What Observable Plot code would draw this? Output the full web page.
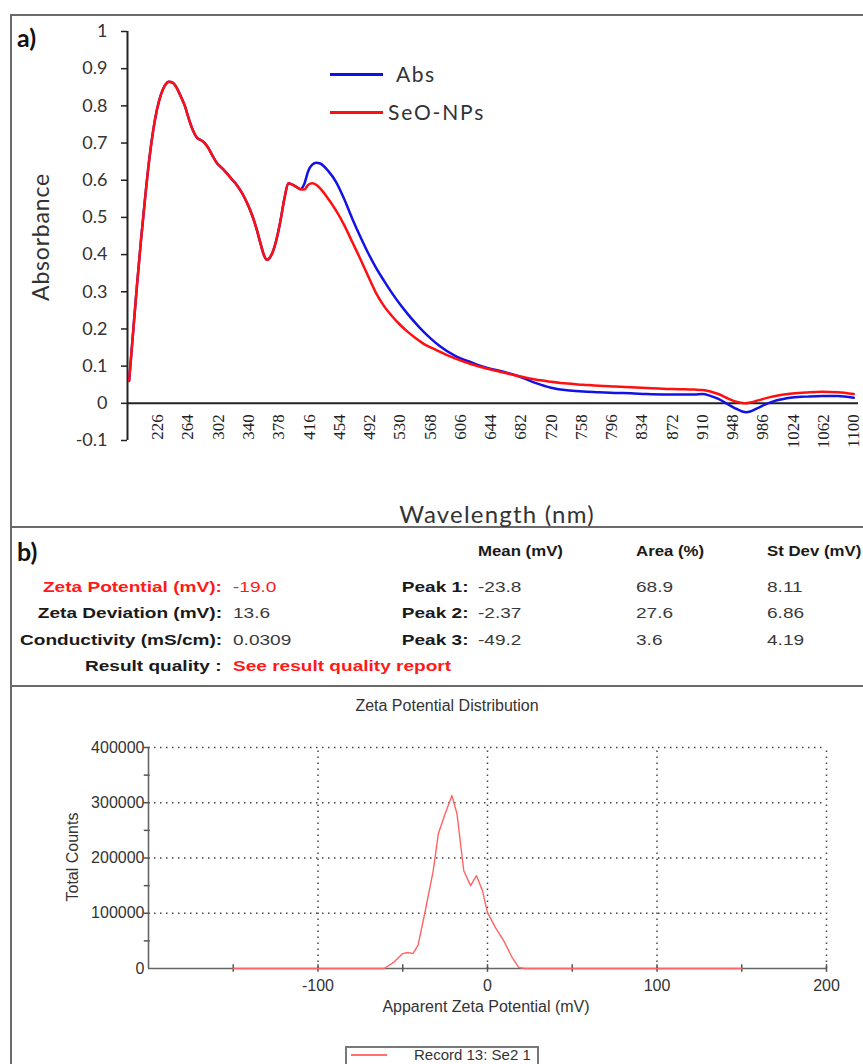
<!DOCTYPE html>
<html><head><meta charset="utf-8">
<script src="https://cdn.jsdelivr.net/npm/d3@7"></script>
<script src="https://cdn.jsdelivr.net/npm/@observablehq/plot@0.6"></script>
<style>
html,body{margin:0;padding:0;background:#fff;}
body{width:863px;height:1064px;overflow:hidden;position:relative;}
.abs{position:absolute;white-space:nowrap;}
.line{position:absolute;background:#6a6a6a;}
.cal{font-family:Lato,"Open Sans",sans-serif;color:#333;}
.ar{font-family:"Liberation Sans",Arial,sans-serif;}
.tb{font-family:"Liberation Sans",Arial,sans-serif;font-size:15px;line-height:18px;color:#3a3a3a;transform:scaleX(1.27);transform-origin:left center;}
.tb.r{transform-origin:right center;text-align:right;}
.tb.b{font-weight:bold;color:#1a1a1a;}
.red{color:#ff1a1a !important;}
</style></head><body>
<div id="plotA" class="abs" style="left:0;top:0"></div>
<div id="plotB" class="abs" style="left:0;top:686px"></div>

<div class="line" style="left:10px;top:14px;width:2px;height:1050px"></div>
<div class="line" style="left:10px;top:14px;width:853px;height:2px"></div>
<div class="line" style="left:10px;top:526px;width:853px;height:2px"></div>
<div class="line" style="left:10px;top:685px;width:853px;height:2px"></div>

<div class="abs cal" style="left:17px;top:22px;font-size:25px;font-weight:bold;color:#111">a)</div>
<div class="abs cal" style="left:40px;top:237px;font-size:23px;letter-spacing:0.8px;transform:translate(-50%,-50%) rotate(-90deg)">Absorbance</div>
<div class="abs cal" style="left:497px;top:513px;font-size:24px;letter-spacing:1.2px;transform:translate(-50%,-50%)">Wavelength (nm)</div>
<div class="abs" style="left:330px;top:73px;width:53px;height:2.5px;background:#1010e8"></div>
<div class="abs cal" style="left:396px;top:61px;font-size:21px;letter-spacing:1.5px">Abs</div>
<div class="abs" style="left:330px;top:111px;width:53px;height:2.5px;background:#ff1010"></div>
<div class="abs cal" style="left:388px;top:99px;font-size:21px;letter-spacing:1.8px">SeO-NPs</div>

<div class="abs cal" style="left:17px;top:536px;font-size:25px;font-weight:bold;color:#111">b)</div>
<div id="table"></div>

<div class="abs ar" style="left:447px;top:706px;font-size:16px;color:#333;transform:translate(-50%,-50%)">Zeta Potential Distribution</div>
<div class="abs ar" style="left:73px;top:857px;font-size:16px;color:#333;transform:translate(-50%,-50%) rotate(-90deg)">Total Counts</div>
<div class="abs ar" style="left:486px;top:1007px;font-size:16px;color:#333;transform:translate(-50%,-50%)">Apparent Zeta Potential (mV)</div>
<div class="abs" style="left:345px;top:1046px;width:190px;height:40px;border:2px solid #777;background:#fff"></div>
<div class="abs" style="left:351px;top:1054px;width:36px;height:2px;background:#ff7070"></div>
<div class="abs ar" style="left:414px;top:1046px;font-size:15px;color:#333">Record 13: Se2 1</div>

<script>
// ---- Panel a: UV-Vis spectra ----
const wavelength = [190,195,200,205,210,215,220,225,230,235,240,245,250,255,260,265,270,275,280,285,290,295,300,305,310,315,320,325,330,335,340,345,350,355,360,363,366,370,375,380,385,390,395,400,405,410,415,420,425,430,440,450,460,470,480,490,500,510,520,530,540,550,560,570,580,600,620,640,660,680,700,720,740,760,780,800,820,840,860,880,900,910,920,930,940,950,960,965,970,980,990,1000,1010,1020,1040,1060,1080,1100];
const absValues = [0.06,0.19,0.32,0.44,0.55,0.65,0.73,0.79,0.83,0.855,0.865,0.862,0.848,0.825,0.80,0.765,0.735,0.715,0.708,0.70,0.685,0.665,0.647,0.636,0.625,0.613,0.60,0.588,0.572,0.553,0.53,0.503,0.47,0.43,0.395,0.386,0.39,0.405,0.44,0.49,0.55,0.592,0.588,0.582,0.576,0.59,0.625,0.642,0.647,0.645,0.625,0.595,0.55,0.498,0.45,0.405,0.365,0.33,0.297,0.267,0.24,0.215,0.192,0.172,0.154,0.127,0.11,0.095,0.085,0.072,0.055,0.042,0.035,0.032,0.030,0.028,0.027,0.025,0.024,0.024,0.024,0.025,0.020,0.012,0.000,-0.012,-0.022,-0.024,-0.022,-0.012,-0.002,0.006,0.011,0.015,0.018,0.020,0.020,0.015];
const seoValues = [0.06,0.19,0.32,0.44,0.55,0.65,0.73,0.79,0.83,0.855,0.865,0.862,0.848,0.825,0.80,0.765,0.735,0.715,0.708,0.70,0.685,0.665,0.647,0.636,0.625,0.613,0.60,0.588,0.572,0.553,0.53,0.503,0.47,0.43,0.395,0.386,0.39,0.405,0.44,0.49,0.55,0.592,0.588,0.582,0.576,0.575,0.588,0.592,0.588,0.578,0.55,0.518,0.48,0.435,0.39,0.343,0.297,0.262,0.235,0.212,0.192,0.175,0.16,0.149,0.139,0.12,0.105,0.093,0.083,0.073,0.064,0.058,0.053,0.050,0.047,0.045,0.043,0.041,0.039,0.038,0.037,0.036,0.032,0.025,0.015,0.006,0.001,0.000,0.002,0.008,0.014,0.019,0.023,0.026,0.029,0.031,0.030,0.025];
const xTickValues = [226,264,302,340,378,416,454,492,530,568,606,644,682,720,758,796,834,872,910,948,986,1024,1062,1100];
const yTickValues = [1,0.9,0.8,0.7,0.6,0.5,0.4,0.3,0.2,0.1,0,-0.1];
const yTickLabels = ["1","0.9","0.8","0.7","0.6","0.5","0.4","0.3","0.2","0.1","0","-0.1"];

// ---- Panel b: zeta potential ----
const zetaMv = [-150,-61,-55,-50,-47,-44,-41,-37,-32,-29,-25,-21,-18,-14,-10,-6.5,-3,0,4.7,9.6,14.5,18.4,22,150];
const zetaCounts = [0,0,12000,27000,29000,27000,42000,100000,177000,244000,280000,313000,280000,177000,150000,168000,141000,101000,74000,50000,20000,2000,0,0];
const zetaXTicks = [-150,-100,-50,0,50,100,150,200];
const zetaXLabelValues = [-100,0,100,200];
const zetaXLabels = ["-100","0","100","200"];
const zetaYTicks = [50000,100000,150000,200000,250000,300000,350000,400000];
const zetaYLabelValues = [0,100000,200000,300000,400000];
const zetaYLabels = ["0","100000","200000","300000","400000"];
const zetaGridX = [-100,0,100,200];
const zetaGridY = [100000,200000,300000,400000];

const tableHeaders = ["Mean (mV)","Area (%)","St Dev (mV)"];
const summaryLabels = ["Zeta Potential (mV):","Zeta Deviation (mV):","Conductivity (mS/cm):","Result quality :"];
const summaryValues = ["-19.0","13.6","0.0309","See result quality report"];
const peakLabels = ["Peak 1:","Peak 2:","Peak 3:"];
const peakMean = ["-23.8","-2.37","-49.2"];
const peakArea = ["68.9","27.6","3.6"];
const peakStDev = ["8.11","6.86","4.19"];

const absData = wavelength.map((w,i)=>({w, v: absValues[i]}));
const seoData = wavelength.map((w,i)=>({w, v: seoValues[i]}));

const plotA = Plot.plot({
  width: 863, height: 527,
  marginLeft: 127, marginRight: 5, marginTop: 31, marginBottom: 87,
  x: {domain: [188, 1106], axis: null},
  y: {domain: [-0.1, 1], axis: null},
  style: {background: "transparent", fontFamily: "Lato, 'Open Sans', sans-serif", fontSize: "18px", color: "#333", overflow: "visible"},
  marks: [
    Plot.ruleY([0], {x1: 188, x2: 1106, stroke: "#222", strokeWidth: 2}),
    Plot.ruleX([188], {y1: -0.1, y2: 1, stroke: "#222", strokeWidth: 2}),
    Plot.ruleY(yTickValues, {x1: 188, x2: 188, insetLeft: -6, stroke: "#222", strokeWidth: 1.5}),
    Plot.text(yTickValues, {x: 188, y: d => d, text: (d,i) => yTickLabels[i], textAnchor: "end", dx: -20, fill: "#333", fontSize: 18}),
    Plot.line(absData, {x: "w", y: "v", stroke: "#1212e6", strokeWidth: 2.5, curve: "monotone-x"}),
    Plot.line(seoData, {x: "w", y: "v", stroke: "#ff1010", strokeWidth: 2.5, curve: "monotone-x"}),
    Plot.text(xTickValues, {x: d => d, y: 0, text: d => String(d), rotate: -90, textAnchor: "end", lineAnchor: "middle", dy: 11, fontFamily: "'Liberation Serif', 'DejaVu Serif', serif", fontSize: 17, fill: "#222"})
  ]
});
document.getElementById("plotA").appendChild(plotA);

const zetaData = zetaMv.map((x,i)=>({x, c: zetaCounts[i]}));
const plotB = Plot.plot({
  width: 863, height: 378,
  marginLeft: 148, marginRight: 37, marginTop: 61, marginBottom: 96,
  x: {domain: [-200, 200], axis: null},
  y: {domain: [0, 400000], axis: null},
  style: {background: "transparent", fontFamily: "'Liberation Sans', Arial, sans-serif", fontSize: "16px", color: "#333", overflow: "visible"},
  marks: [
    Plot.ruleY(zetaGridY, {x1: -200, x2: 200, stroke: "#444", strokeWidth: 1.5, strokeDasharray: "1.5,4.5"}),
    Plot.ruleX(zetaGridX, {y1: 0, y2: 400000, stroke: "#444", strokeWidth: 1.5, strokeDasharray: "1.5,4.5"}),
    Plot.ruleY([0], {x1: -200, x2: 200, stroke: "#666", strokeWidth: 1.6}),
    Plot.ruleX([-200], {y1: 0, y2: 400000, stroke: "#666", strokeWidth: 1.6}),
    Plot.ruleX(zetaXTicks, {y1: -7000, y2: 7000, stroke: "#555", strokeWidth: 1.5}),
    Plot.ruleY(zetaYTicks, {x1: -202.5, x2: -199, stroke: "#555", strokeWidth: 1.5}),
    Plot.line(zetaData, {x: "x", y: "c", stroke: "#ff6464", strokeWidth: 1.4}),
    Plot.text(zetaXLabelValues, {x: d => d, y: 0, text: (d,i) => zetaXLabels[i], dy: 17, fill: "#333"}),
    Plot.text(zetaYLabelValues, {x: -200, y: d => d, text: (d,i) => zetaYLabels[i], textAnchor: "end", dx: -4, fill: "#333"})
  ]
});
document.getElementById("plotB").appendChild(plotB);

// table text
const T = document.getElementById("table");
function add(txt, style, cls) {
  const d = document.createElement("div");
  d.className = "abs tb " + (cls||"");
  d.textContent = txt;
  d.setAttribute("style", style);
  T.appendChild(d);
}
const rowsY = [587, 613, 640, 666];
const headerY = 551;
const colX = [478, 636, 767];
tableHeaders.forEach((h,i)=>add(h, `left:${colX[i]}px;top:${headerY-9}px;transform:scaleX(1.12)`, "b"));
summaryLabels.forEach((s,i)=>add(s, `right:${863-222}px;top:${rowsY[i]-9}px`, "b r" + (i===0?" red":"")));
summaryValues.forEach((s,i)=>add(s, `left:233px;top:${rowsY[i]-9}px`, (i===0?"red":"") + (i===3?" b red":"")));
peakLabels.forEach((s,i)=>add(s, `right:${863-469}px;top:${rowsY[i]-9}px`, "b r"));
[peakMean, peakArea, peakStDev].forEach((col,j)=>col.forEach((s,i)=>add(s, `left:${colX[j]}px;top:${rowsY[i]-9}px`)));
</script>
</body></html>
